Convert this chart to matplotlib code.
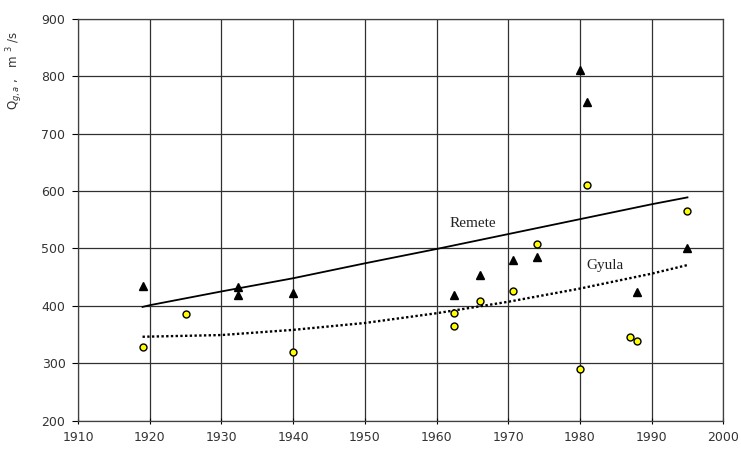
import matplotlib
matplotlib.use("Agg")
import matplotlib.pyplot as plt

# Remete (triangles)
remete_year = [1919, 1932.3, 1932.3, 1940, 1962.5, 1966, 1970.7, 1974, 1980, 1981, 1988, 1995]
remete_q = [435, 432, 418, 423, 419, 454, 480, 485, 811, 755, 424, 501]

# Gyula (circles)
gyula_year = [1919, 1925, 1940, 1962.5, 1962.5, 1966, 1970.7, 1974, 1980, 1981, 1987, 1988, 1995]
gyula_q = [328, 385, 320, 387, 365, 408, 426, 508, 290, 611, 345, 338, 566]

# trend lines
rem_trend_year = [1919, 1920, 1930, 1940, 1950, 1960, 1970, 1980, 1990, 1995]
rem_trend_q = [398, 401, 425, 448, 474, 499, 525, 551, 577, 589]
gy_trend_year = [1919, 1930, 1940, 1950, 1960, 1970, 1980, 1990, 1995]
gy_trend_q = [346, 349, 358, 370, 387, 407, 430, 456, 471]

fig = plt.figure(figsize=(7.41, 4.49), dpi=100)
ax = fig.add_axes([78 / 741, 1 - 420.5 / 449, (723.3 - 78) / 741, (420.5 - 19) / 449])

ax.plot(rem_trend_year, rem_trend_q, color='black', lw=1.3)
ax.plot(gy_trend_year, gy_trend_q, color='black', lw=1.7, linestyle=(0, (1, 1)))

ax.plot(remete_year, remete_q, '^', color='black', markersize=5.5, ls='none')
ax.plot(gyula_year, gyula_q, 'o', markerfacecolor='yellow', markeredgecolor='black',
        markeredgewidth=1, markersize=5, ls='none')

ax.text(1961.8, 537, 'Remete', family='Liberation Serif', fontsize=11, color='#222222')
ax.text(1980.9, 464, 'Gyula', family='Liberation Serif', fontsize=11, color='#222222')

ax.set_xlim(1910, 2000)
ax.set_ylim(200, 900)
ax.set_xticks(range(1910, 2001, 10))
ax.set_yticks(range(200, 901, 100))
ax.grid(True, color='#303030', lw=0.9)
for s in ax.spines.values():
    s.set_color('#404040')
    s.set_linewidth(0.9)
ax.tick_params(axis='x', direction='inout', length=5, labelsize=9, pad=5, labelcolor='#333333')
ax.tick_params(axis='y', direction='out', length=4, labelsize=9, pad=5, labelcolor='#333333')

fig.text(15 / 741, 1 - 71 / 449, r'Q$_{g,a}$ ,   m $^3$ /s', rotation=90,
         ha='center', va='center', fontsize=8.5, color='#333333')

fig.savefig('out.png', dpi=100)
